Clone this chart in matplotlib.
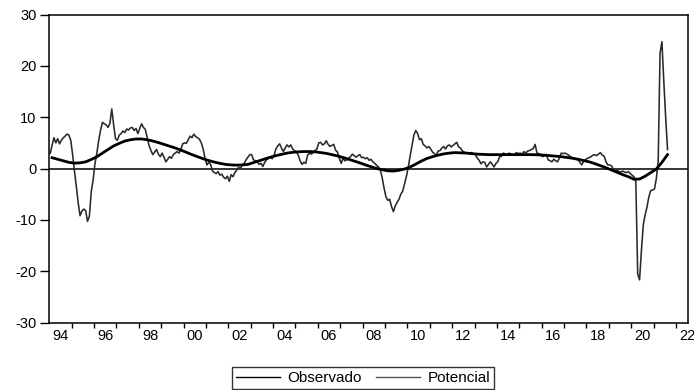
import numpy as np
import matplotlib.pyplot as plt
from matplotlib.ticker import FixedLocator, NullFormatter

plt.rcParams['font.family'] = ['Liberation Sans', 'DejaVu Sans']
plt.rcParams['axes.unicode_minus'] = False

# Observed series, monthly, one row per year (Jan 1994 - Aug 2021)
observado = [
    [3.0, 4.5, 6.0, 5.0, 5.8, 4.8, 5.5, 6.0, 6.3, 6.7, 6.5, 5.5],            # 1994
    [2.7, -0.5, -3.5, -6.7, -9.2, -8.3, -7.9, -8.2, -10.3, -9.3, -4.5, -2.2],  # 1995
    [1.0, 3.0, 5.5, 7.5, 9.0, 8.7, 8.5, 8.0, 8.8, 11.6, 8.5, 5.8],           # 1996
    [5.5, 6.5, 6.8, 7.3, 7.0, 7.7, 7.5, 7.9, 8.0, 7.4, 7.8, 6.8],            # 1997
    [7.8, 8.7, 8.0, 7.6, 6.0, 4.5, 3.5, 2.7, 3.2, 3.7, 2.8, 2.3],            # 1998
    [3.0, 2.2, 1.3, 1.8, 2.3, 2.0, 2.7, 3.0, 3.3, 3.0, 3.6, 4.8],            # 1999
    [5.0, 4.9, 5.6, 6.3, 6.0, 6.7, 6.2, 6.0, 5.7, 5.0, 3.8, 2.0],            # 2000
    [0.7, 1.2, 0.8, -0.5, -0.8, -1.0, -0.6, -1.3, -1.1, -1.7, -2.0, -1.5],   # 2001
    [-2.5, -1.2, -1.6, -0.8, -0.3, 0.2, 0.0, 0.7, 1.0, 1.7, 2.2, 2.7],       # 2002
    [2.7, 1.7, 1.5, 1.3, 0.8, 1.0, 0.4, 1.2, 1.7, 2.0, 2.3, 1.9],            # 2003
    [2.5, 3.8, 4.4, 4.8, 4.0, 3.3, 4.0, 4.6, 4.2, 4.6, 3.8, 3.5],            # 2004
    [3.2, 2.6, 1.5, 0.8, 1.2, 1.0, 2.6, 3.0, 2.8, 3.1, 3.5, 3.8],            # 2005
    [5.0, 5.1, 4.6, 4.8, 5.4, 4.7, 4.3, 4.5, 4.7, 3.6, 3.2, 2.0],            # 2006
    [1.0, 2.0, 1.5, 1.7, 2.0, 2.3, 2.8, 2.5, 2.2, 2.5, 2.7, 2.1],            # 2007
    [2.2, 1.9, 2.1, 1.6, 1.8, 1.3, 1.0, 0.6, 0.3, -0.3, -1.8, -3.8],         # 2008
    [-5.5, -6.2, -6.0, -7.4, -8.4, -7.3, -6.6, -6.0, -5.0, -4.4, -3.0, -1.5],  # 2009
    [0.3, 2.5, 4.5, 6.5, 7.4, 6.8, 5.6, 5.8, 4.7, 4.4, 4.0, 4.3],            # 2010
    [3.8, 3.2, 2.9, 2.6, 3.4, 3.5, 4.0, 4.3, 3.8, 4.4, 4.6, 4.2],            # 2011
    [4.5, 4.8, 5.1, 4.2, 4.0, 3.4, 3.2, 3.0, 3.1, 2.9, 3.1, 2.8],            # 2012
    [2.7, 2.0, 1.6, 0.9, 1.3, 1.2, 0.3, 0.8, 1.3, 0.8, 0.3, 1.0],            # 2013
    [1.3, 2.3, 2.4, 3.0, 2.8, 2.7, 3.0, 2.8, 2.6, 2.8, 3.1, 2.9],            # 2014
    [3.0, 2.8, 3.3, 3.0, 3.4, 3.5, 3.7, 3.9, 4.7, 3.0, 2.9, 2.7],            # 2015
    [2.3, 2.5, 2.7, 1.7, 1.5, 1.3, 1.8, 1.5, 1.3, 2.0, 3.0, 2.9],            # 2016
    [3.0, 2.8, 2.6, 2.3, 2.1, 2.0, 1.8, 1.7, 1.2, 0.7, 1.4, 1.7],            # 2017
    [2.0, 2.1, 2.3, 2.6, 2.7, 2.5, 2.8, 3.1, 2.6, 2.4, 1.3, 0.7],            # 2018
    [0.7, 0.5, -0.2, -0.4, -0.3, -0.6, -0.7, -0.5, -0.7, -0.8, -0.6, -1.0],  # 2019
    [-1.3, -1.6, -2.5, -20.5, -21.7, -16.0, -11.0, -9.0, -7.5, -5.5, -4.3, -4.2],  # 2020
    [-4.0, -2.0, 1.5, 22.5, 24.7, 17.0, 10.0, 3.7],                          # 2021
]

# Potential (trend) series, quarterly, one row per year
potencial = [
    [2.1, 1.8, 1.5, 1.2],      # 1994
    [1.05, 1.1, 1.3, 1.75],    # 1995
    [2.3, 3.0, 3.7, 4.4],      # 1996
    [4.9, 5.35, 5.6, 5.75],    # 1997
    [5.75, 5.6, 5.35, 5.05],   # 1998
    [4.7, 4.35, 4.0, 3.6],     # 1999
    [3.15, 2.7, 2.3, 1.9],     # 2000
    [1.55, 1.25, 1.0, 0.8],    # 2001
    [0.7, 0.65, 0.7, 0.8],     # 2002
    [1.15, 1.5, 1.85, 2.2],    # 2003
    [2.5, 2.75, 3.0, 3.15],    # 2004
    [3.25, 3.3, 3.3, 3.25],    # 2005
    [3.1, 2.95, 2.7, 2.45],    # 2006
    [2.15, 1.8, 1.45, 1.1],    # 2007
    [0.7, 0.35, 0.0, -0.25],   # 2008
    [-0.45, -0.5, -0.35, -0.1],  # 2009
    [0.3, 0.85, 1.45, 1.95],   # 2010
    [2.3, 2.6, 2.85, 3.0],     # 2011
    [3.1, 3.05, 3.0, 2.9],     # 2012
    [2.8, 2.75, 2.7, 2.7],     # 2013
    [2.7, 2.7, 2.7, 2.7],      # 2014
    [2.7, 2.7, 2.7, 2.65],     # 2015
    [2.6, 2.5, 2.4, 2.3],      # 2016
    [2.15, 2.0, 1.8, 1.55],    # 2017
    [1.3, 0.95, 0.55, 0.15],   # 2018
    [-0.3, -0.75, -1.2, -1.6],  # 2019
    [-2.1, -2.05, -1.5, -0.8],  # 2020
    [-0.1, 1.2, 2.7],          # 2021
]

first_year = 1994
label_years = list(range(1994, 2023, 2))

obs = np.concatenate([np.array(r, dtype=float) for r in observado])
pot = np.concatenate([np.array(r, dtype=float) for r in potencial])
t_obs = first_year + (np.arange(len(obs)) + 0.5) / 12
t_pot = first_year + (np.arange(len(pot)) + 0.5) / 4

fig = plt.figure(figsize=(6.94, 3.90), dpi=100)
ax = fig.add_axes([49.3 / 694, 1 - 322.5 / 390, (688 - 49.3) / 694, (322.5 - 14.5) / 390])

ax.axhline(0, color='black', lw=1.1, zorder=1)
l_obs, = ax.plot(t_obs, obs, color='#2a2a2a', lw=1.15, zorder=2, label='Observado')
l_pot, = ax.plot(t_pot, pot, color='black', lw=2.0, zorder=3, label='Potencial')

ax.set_xlim(first_year, 2022.54)
ax.set_ylim(-30, 30)
ax.set_yticks([-30, -20, -10, 0, 10, 20, 30])

# year boundaries get tick marks, labels sit in the middle of each even year
ax.xaxis.set_major_locator(FixedLocator(list(range(1995, 2023))))
ax.xaxis.set_major_formatter(NullFormatter())
ax.xaxis.set_minor_locator(FixedLocator([y + 0.5 for y in label_years]))
ax.set_xticklabels([f'{y % 100:02d}' for y in label_years], minor=True)

ax.tick_params(axis='x', which='major', direction='out', length=3.8, width=1.0, color='black')
ax.tick_params(axis='x', which='minor', length=0, pad=5, labelsize=10.5)
ax.tick_params(axis='y', direction='out', length=6.8, width=1.0, pad=2.5, labelsize=10.5)
ax.tick_params(top=False, right=False)

for s in ax.spines.values():
    s.set_linewidth(1.1)
    s.set_color('black')

leg = fig.legend(handles=[l_obs, l_pot], loc='center', bbox_to_anchor=(0.523, 0.031),
                 ncol=2, fontsize=11, frameon=True, fancybox=False, handlelength=2.9,
                 handletextpad=0.5, columnspacing=0.9, borderpad=0.25, borderaxespad=0)
leg.get_frame().set_edgecolor('black')
leg.get_frame().set_linewidth(1.0)
leg.get_lines()[0].set_color('black')
leg.get_lines()[0].set_linewidth(1.0)
leg.get_lines()[1].set_color('#555555')
leg.get_lines()[1].set_linewidth(1.0)

fig.savefig('out.png', dpi=100)
